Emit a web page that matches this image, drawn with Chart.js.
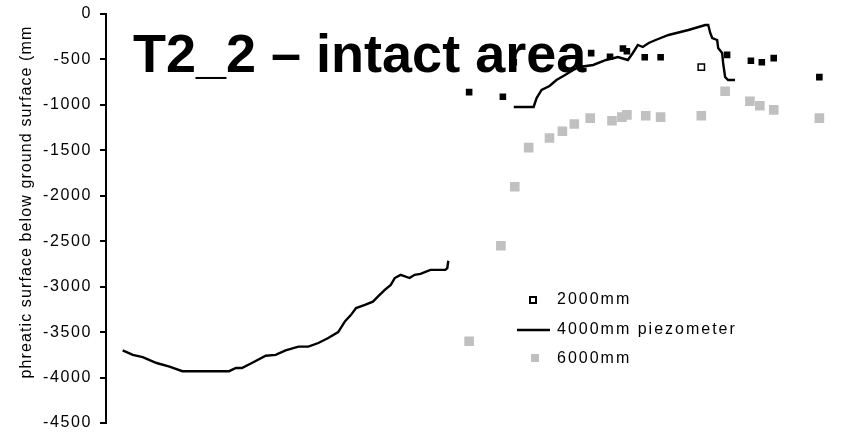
<html>
    <head>
        <script src="https://cdn.jsdelivr.net/npm/chart.js@4"></script>
        <style>
            body { margin: 0; background: #fff; }
        </style>
    </head>
    <body>
        <canvas id="myChart" width="847" height="435"></canvas>

        <script>
            // days since start of record (x) and depth below ground in mm (y)
            var days2000  = [183, 200, 205.5, 244.5, 254, 260.5, 262.5, 271.5, 279.5, 300, 313, 325, 330.5, 336.5, 359.5];
            var depth2000 = [-860, -910, -530, -430, -470, -380, -410, -475, -475, -585, -450, -515, -530, -485, -695];

            // piezometer record, null marks the break in logging
            var days4000  = [8.4, 13.5, 18.5, 25.5, 32, 38.5, 62, 65.5, 68.5, 73.5, 80.5, 85.5, 90.5, 97, 102, 107, 112, 117,
                             120.5, 123.5, 126, 130.5, 134.5, 137, 140.5, 143.5, 145.5, 148.5, 153, 155.5, 158.5, 163.5, 171, 172, 172.5,
                             190,
                             205.5, 215.5, 217, 219.5, 223.5, 227, 230.5, 235.5, 238.5, 245.5, 252, 258, 263, 265.5, 268, 270.5, 273.5,
                             277, 283.5, 293.5, 302, 303.5, 304.5, 305.5, 308, 308.5, 310.5, 311, 312, 313.5, 317];
            var depth4000 = [-3700, -3750, -3775, -3840, -3880, -3930, -3930, -3895, -3895, -3840, -3760, -3750, -3700, -3660, -3660, -3620, -3565, -3500,
                             -3380, -3310, -3235, -3200, -3165, -3110, -3035, -2980, -2905, -2870, -2905, -2870, -2860, -2815, -2815, -2795, -2715,
                             null,
                             -1023, -1023, -925, -836, -792, -726, -682, -616, -583, -561, -506, -473, -506, -429, -341, -363, -319,
                             -286, -231, -176, -121, -121, -209, -264, -286, -374, -429, -539, -693, -726, -726];

            var days6000  = [183, 199, 206, 213, 223.5, 230, 236, 244, 255, 260, 262.5, 272, 279.5, 300, 312, 324.5, 329.5, 336.5, 359.5];
            var depth6000 = [-3600, -2550, -1900, -1470, -1365, -1290, -1210, -1145, -1175, -1135, -1110, -1120, -1135, -1120, -850, -960, -1010, -1055, -1145];

            var yTicks = [0, -500, -1000, -1500, -2000, -2500, -3000, -3500, -4000, -4500];
            var titleText = 'T2_2 \u2013 intact area';
            var yTitleText = 'phreatic surface below ground surface (mm';
            var legendLabels = ['2000mm', '4000mm piezometer', '6000mm'];

            function toPoints(xs, ys) {
                return xs.map(function (x, i) { return { x: x, y: ys[i] }; });
            }

            var FONT = '"Liberation Sans", Arial, sans-serif';

            // big title over the plot, y axis title and the legend box
            var overlay = {
                id: 'overlay',
                beforeDraw: function (chart) {
                    // the original renders with loose letter spacing, tick labels included
                    if ('letterSpacing' in chart.ctx) chart.ctx.letterSpacing = '1.6px';
                },
                beforeDatasetsDraw: function (chart) {
                    var ctx = chart.ctx;
                    ctx.save();
                    ctx.letterSpacing = '0px';
                    ctx.fillStyle = '#000';
                    ctx.font = 'bold 54px ' + FONT;
                    ctx.textBaseline = 'alphabetic';
                    ctx.textAlign = 'left';
                    ctx.fillText(titleText, 133, 72);
                    ctx.restore();
                },
                afterDraw: function (chart) {
                    var ctx = chart.ctx;
                    ctx.save();
                    ctx.fillStyle = '#000';
                    ctx.font = '16px ' + FONT;
                    ctx.letterSpacing = '1.1px';
                    ctx.translate(27, 202);
                    ctx.rotate(-Math.PI / 2);
                    ctx.textAlign = 'center';
                    ctx.textBaseline = 'middle';
                    ctx.fillText(yTitleText, 0, 0);
                    ctx.restore();

                    ctx.save();
                    ctx.font = '16px ' + FONT;
                    ctx.letterSpacing = '2px';
                    ctx.textBaseline = 'middle';
                    ctx.strokeStyle = '#000';
                    // 2000mm: hollow square
                    ctx.fillStyle = '#fff';
                    ctx.lineWidth = 2;
                    ctx.fillRect(530, 297, 6, 6);
                    ctx.strokeRect(530, 297, 6, 6);
                    // 4000mm: line
                    ctx.beginPath();
                    ctx.moveTo(517, 330);
                    ctx.lineTo(550, 330);
                    ctx.lineWidth = 2.5;
                    ctx.stroke();
                    // 6000mm: grey square
                    ctx.fillStyle = '#c0c0c0';
                    ctx.fillRect(531, 354, 8, 8);
                    ctx.fillStyle = '#000';
                    ctx.fillText(legendLabels[0], 557, 300);
                    ctx.fillText(legendLabels[1], 557, 330);
                    ctx.fillText(legendLabels[2], 557, 359);
                    ctx.restore();
                    ctx.letterSpacing = '0px';
                }
            };

            var ctx = document.getElementById('myChart').getContext('2d');
            var chart = new Chart(ctx, {
                type: 'scatter',
                data: {
                    datasets: [{
                        label: legendLabels[2],
                        data: toPoints(days6000, depth6000),
                        pointStyle: 'rect',
                        pointRadius: 6.8,
                        pointHoverRadius: 6.8,
                        pointBackgroundColor: '#c0c0c0',
                        pointBorderWidth: 0,
                        showLine: false
                    }, {
                        label: legendLabels[1],
                        data: toPoints(days4000, depth4000),
                        showLine: true,
                        spanGaps: false,
                        borderColor: '#000',
                        borderWidth: 2.4,
                        pointRadius: 0,
                        fill: false
                    }, {
                        label: legendLabels[0],
                        data: toPoints(days2000, depth2000),
                        pointStyle: 'rect',
                        pointRadius: days2000.map(function (d, i) { return i === 9 ? 4.5 : 3.6; }),
                        pointBackgroundColor: days2000.map(function (d, i) { return i === 9 ? '#fff' : '#000'; }),
                        pointBorderColor: '#000',
                        pointBorderWidth: 1.5,
                        showLine: false
                    }]
                },
                options: {
                    responsive: false,
                    animation: false,
                    layout: { padding: { left: 40, top: 14, right: 1, bottom: 12 } },
                    plugins: {
                        legend: { display: false },
                        title: { display: false },
                        tooltip: { enabled: false }
                    },
                    scales: {
                        x: {
                            type: 'linear',
                            display: false,
                            min: 0,
                            max: 370
                        },
                        y: {
                            min: -4500,
                            max: 0,
                            afterFit: function (scale) {
                                scale.width = 66;
                                scale.paddingTop = 0;
                                scale.paddingBottom = 0;
                            },
                            afterBuildTicks: function (scale) {
                                scale.ticks = yTicks.map(function (v) { return { value: v }; });
                            },
                            ticks: {
                                color: '#000',
                                padding: 8,
                                font: { family: FONT, size: 16 },
                                callback: function (v) { return String(v); }
                            },
                            grid: {
                                drawOnChartArea: false,
                                drawTicks: true,
                                tickLength: 6,
                                color: '#000',
                                lineWidth: 2
                            },
                            border: { color: '#000', width: 2 }
                        }
                    }
                },
                plugins: [overlay]
            });
        </script>
    </body>
</html>
